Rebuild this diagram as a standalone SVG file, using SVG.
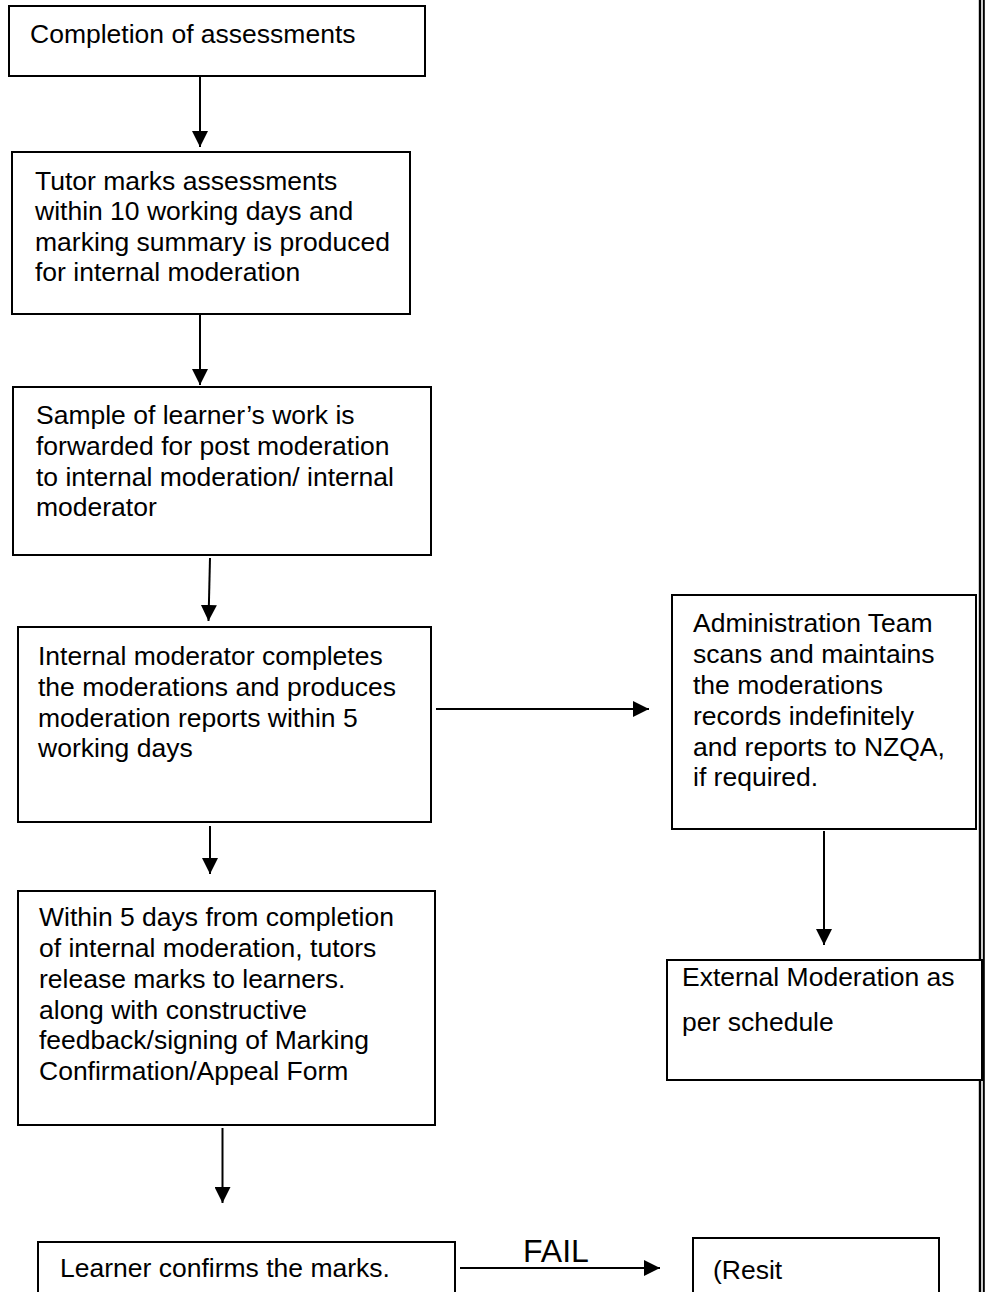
<svg xmlns="http://www.w3.org/2000/svg" width="987" height="1292" viewBox="0 0 987 1292">
<defs>
<style>
.box{fill:#fff;stroke:#000;stroke-width:2}
.t{font-family:"Liberation Sans",Arial,sans-serif;font-size:26.5px;fill:#000}
.c{stroke:#000;stroke-width:2;fill:none}
</style>
<marker id="ah" markerUnits="userSpaceOnUse" markerWidth="16" markerHeight="16" viewBox="0 0 16 16" refX="16" refY="8" orient="auto">
<path d="M0,0 L16,8 L0,16 Z" fill="#000"/>
</marker>
</defs>
<rect width="987" height="1292" fill="#fff"/>
<g id="border">
<rect x="978.8" y="0" width="2.4" height="1292" fill="#000"/>
<rect x="982.8" y="0" width="2" height="1292" fill="#000"/>
</g>
<g id="connectors">
<line class="c" x1="200" y1="77" x2="200" y2="147" marker-end="url(#ah)"/>
<line class="c" x1="200" y1="315" x2="200" y2="385" marker-end="url(#ah)"/>
<line class="c" x1="210" y1="558" x2="208.5" y2="621" marker-end="url(#ah)"/>
<line class="c" x1="436" y1="709" x2="649" y2="709" marker-end="url(#ah)"/>
<line class="c" x1="824" y1="831" x2="824" y2="945" marker-end="url(#ah)"/>
<line class="c" x1="210" y1="826" x2="210" y2="874" marker-end="url(#ah)"/>
<line class="c" x1="222.5" y1="1128" x2="222.5" y2="1203" marker-end="url(#ah)"/>
<line class="c" x1="460" y1="1268" x2="660" y2="1268" marker-end="url(#ah)"/>
<text class="t" x="523" y="1262" style="font-size:32px">FAIL</text>
</g>
<g id="n1">
<rect class="box" x="9" y="6" width="416" height="70"/>
<text class="t" x="30" y="43">Completion of assessments</text>
</g>
<g id="n2">
<rect class="box" x="12" y="152" width="398" height="162"/>
<text class="t" x="35" y="190">Tutor marks assessments</text>
<text class="t" x="35" y="220">within 10 working days and</text>
<text class="t" x="35" y="251">marking summary is produced</text>
<text class="t" x="35" y="281">for internal moderation</text>
</g>
<g id="n3">
<rect class="box" x="13" y="387" width="418" height="168"/>
<text class="t" x="36" y="424">Sample of learner’s work is</text>
<text class="t" x="36" y="455">forwarded for post moderation</text>
<text class="t" x="36" y="486">to internal moderation/ internal</text>
<text class="t" x="36" y="516">moderator</text>
</g>
<g id="n4">
<rect class="box" x="18" y="627" width="413" height="195"/>
<text class="t" x="38" y="665">Internal moderator completes</text>
<text class="t" x="38" y="696">the moderations and produces</text>
<text class="t" x="38" y="727">moderation reports within 5</text>
<text class="t" x="38" y="757">working days</text>
</g>
<g id="n5">
<rect class="box" x="672" y="595" width="304" height="234"/>
<text class="t" x="693" y="632">Administration Team</text>
<text class="t" x="693" y="663">scans and maintains</text>
<text class="t" x="693" y="694">the moderations</text>
<text class="t" x="693" y="725">records indefinitely</text>
<text class="t" x="693" y="756">and reports to NZQA,</text>
<text class="t" x="693" y="786">if required.</text>
</g>
<g id="n6">
<rect class="box" x="667" y="960" width="315" height="120"/>
<text class="t" x="682" y="986">External Moderation as</text>
<text class="t" x="682" y="1031">per schedule</text>
</g>
<g id="n7">
<rect class="box" x="18" y="891" width="417" height="234"/>
<text class="t" x="39" y="926">Within 5 days from completion</text>
<text class="t" x="39" y="957">of internal moderation, tutors</text>
<text class="t" x="39" y="988">release marks to learners.</text>
<text class="t" x="39" y="1019">along with constructive</text>
<text class="t" x="39" y="1049">feedback/signing of Marking</text>
<text class="t" x="39" y="1080">Confirmation/Appeal Form</text>
</g>
<g id="n8">
<rect class="box" x="38" y="1242" width="417" height="80"/>
<text class="t" x="60" y="1277">Learner confirms the marks.</text>
</g>
<g id="n9">
<rect class="box" x="693" y="1238" width="246" height="80"/>
<text class="t" x="713" y="1279">(Resit</text>
</g>
</svg>
